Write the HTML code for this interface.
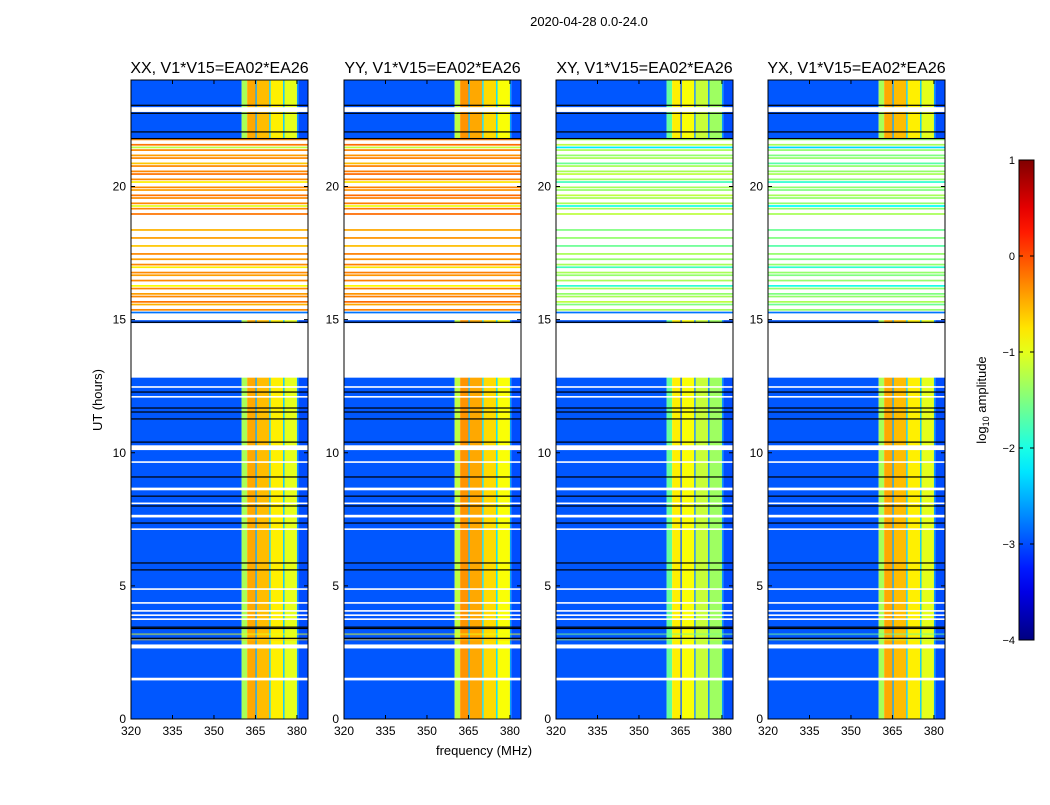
<!DOCTYPE html>
<html><head><meta charset="utf-8">
<style>
body{margin:0;background:#fff;}
svg text{font-family:"Liberation Sans","DejaVu Sans",sans-serif;}
</style></head>
<body>
<svg id="fig" width="1050" height="800" viewBox="0 0 1050 800" xmlns="http://www.w3.org/2000/svg">
<rect width="1050" height="800" fill="#fff"/>
<text x="589" y="26" font-size="13" text-anchor="middle">2020-04-28 0.0-24.0</text>
<text x="102" y="400" font-size="13" text-anchor="middle" transform="rotate(-90 102 400)">UT (hours)</text>
<text x="484" y="755" font-size="13" text-anchor="middle">frequency (MHz)</text>
<g id="panels"></g>
<g id="cbar"></g>
</svg>
<script>
// ---- data ----
const panelTitles = ["XX, V1*V15=EA02*EA26","YY, V1*V15=EA02*EA26","XY, V1*V15=EA02*EA26","YX, V1*V15=EA02*EA26"];
const xTicks = [320,335,350,365,380];
const yTicks = [0,5,10,15,20];
const cbarTicks = [1,0,-1,-2,-3,-4];
// frequency segments: start, end, quiet level (log10 amp)
const freqStart = [320,360,362,365,365.5,370,370.5,375,375.5,380,380.5];
const freqEnd   = [360,362,365,365.5,370,370.5,375,375.5,380,380.5,384];
const freqLevel = [-2.95,-1.3,-0.45,-2.6,-0.55,-2.4,-0.8,-2.4,-1.0,-2.6,-3.0];
const panelBandOffset = [0,0.1,-0.35,0.0];
const panelStripeOffset = [0,0.05,-1.0,-1.1];
// quiet time segments (hours)
const quietStart = [0,14.87,21.8];
const quietEnd   = [12.82,14.98,24];
// stripe rows from 21.8 down to 15.3 every 0.1 h (null = no data)
const stripeLevels = [-0.3,null,-0.2,-1.2,-0.3,null,-0.4,-0.3,null,-0.6,-0.3,null,-0.3,-0.2,null,-0.3,-0.8,null,-0.3,-0.4,null,-0.2,-0.3,null,-0.3,-1.0,-0.3,null,-0.2,null,null,null,null,null,-0.5,null,null,-0.4,null,null,-0.6,null,null,-0.3,null,-0.4,null,-0.3,-0.8,null,-0.3,-0.4,null,-0.3,null,-0.9,-0.3,null,-0.4,-0.3,null,-0.2,-0.5,null,-0.3,-2.8];
// white (flagged) lines: start, end hours
const whiteStart = [1.45,2.65,3.72,3.87,4.03,4.33,4.85,7.1,7.57,8.07,8.59,9.62,10.1,12.07,12.44,22.8];
const whiteEnd   = [1.55,2.8,3.78,3.93,4.09,4.39,4.91,7.16,7.67,8.13,8.69,9.68,10.28,12.13,12.5,22.98];
// black lines (hours)
const blackLines = [3.03,3.4,3.45,5.6,5.86,7.36,8.0,8.37,9.09,10.4,11.27,11.53,11.68,12.28,14.9,21.8,22.05,22.75,23.05];
// mixed stripe rows at ~3 h
const mixStart = [2.95,3.15];
const mixEnd = [3.0,3.22];
const mixLevel = [-0.6,-1.0];

// ---- layout ----
const panelX = [131,344,556,768], PW = 177, PT = 80, PB = 719;
const NS = "http://www.w3.org/2000/svg";
function xs(f,i){return panelX[i] + (f-320)/(384-320)*PW;}
function ys(h){return PB - h/24*(PB-PT);}
function clamp(v){return Math.max(0,Math.min(1,v));}
function jet(v){
  const t = clamp((v+4)/5);
  const r = clamp(1.5-Math.abs(4*t-3)), g = clamp(1.5-Math.abs(4*t-2)), b = clamp(1.5-Math.abs(4*t-1));
  return `rgb(${Math.round(r*255)},${Math.round(g*255)},${Math.round(b*255)})`;
}
function mk(tag, attrs, parent){
  const e = document.createElementNS(NS, tag);
  for (const k in attrs) e.setAttribute(k, attrs[k]);
  parent.appendChild(e); return e;
}
const panels = document.getElementById('panels');
for (let i=0;i<4;i++){
  const g = mk('g',{},panels);
  
  
  for (let q=0;q<quietStart.length;q++){
    for (let s=0;s<freqStart.length;s++){
      const lv = freqLevel[s] + (freqStart[s]>=360 && freqStart[s]<380 ? panelBandOffset[i] : 0);
      const r = mk('rect',{x:xs(freqStart[s],i), y:ys(quietEnd[q]), width:xs(freqEnd[s],i)-xs(freqStart[s],i), height:ys(quietStart[q])-ys(quietEnd[q]), fill:jet(lv)},g);
      
      
    }
  }
  for (let k=0;k<stripeLevels.length;k++){
    if (stripeLevels[k]===null) continue;
    const h = 21.8 - k*0.1;
    const r = mk('rect',{x:panelX[i], y:ys(h), width:PW, height:ys(h-0.065)-ys(h), fill:jet(stripeLevels[k]+ (k<stripeLevels.length-1?panelStripeOffset[i]:0))},g);
    
    
  }
  for (let m=0;m<mixStart.length;m++){
    const r = mk('rect',{x:panelX[i], y:ys(mixEnd[m]), width:PW, height:ys(mixStart[m])-ys(mixEnd[m]), fill:jet(mixLevel[m]+panelStripeOffset[i]*0.5), opacity:0.5},g);
    
    
  }
  for (let w=0;w<whiteStart.length;w++){
    const r = mk('rect',{x:panelX[i], y:ys(whiteEnd[w]), width:PW, height:ys(whiteStart[w])-ys(whiteEnd[w]), fill:'#fff'},g);
    
    
  }
  for (const b of blackLines){
    const r = mk('rect',{x:panelX[i], y:ys(b)-0.6, width:PW, height:1.2, fill:'#000'},g);
    
    
  }
  const fr = mk('rect',{x:panelX[i], y:PT, width:PW, height:PB-PT, fill:'none', stroke:'#000', 'stroke-width':1},g);
  
  
  const t = mk('text',{x:panelX[i]+PW/2, y:73, 'font-size':16, 'text-anchor':'middle'},g);
  t.textContent = panelTitles[i];
  
  
  for (const xt of xTicks){
    const x = xs(xt,i);
    mk('line',{x1:x,x2:x,y1:PB,y2:PB-4,stroke:'#000'},g);
    mk('line',{x1:x,x2:x,y1:PT,y2:PT+4,stroke:'#000'},g);
    const l = mk('text',{x:x, y:PB+16, 'font-size':12, 'text-anchor':'middle'},g);
    l.textContent = xt;
    
    
  }
  for (const yt of yTicks){
    const y = ys(yt);
    mk('line',{x1:panelX[i],x2:panelX[i]+4,y1:y,y2:y,stroke:'#000'},g);
    mk('line',{x1:panelX[i]+PW,x2:panelX[i]+PW-4,y1:y,y2:y,stroke:'#000'},g);
    const l = mk('text',{x:panelX[i]-5, y:y+4, 'font-size':12, 'text-anchor':'end'},g);
    l.textContent = yt;
    
    
  }
}
const cb = document.getElementById('cbar');
const CX=1019, CW=15, CT=160, CB=640;
const defs = mk('defs',{},cb);
const grad = mk('linearGradient',{id:'jetg',x1:0,y1:1,x2:0,y2:0},defs);
for (let k=0;k<=20;k++){ mk('stop',{offset:k/20, 'stop-color':jet(-4+5*k/20)},grad); }
const cr = mk('rect',{x:CX,y:CT,width:CW,height:CB-CT,fill:'url(#jetg)',stroke:'#000'},cb);


for (const v of cbarTicks){
  const y = CB - (v+4)/5*(CB-CT);
  mk('line',{x1:CX,x2:CX+4,y1:y,y2:y,stroke:'#000'},cb);
  mk('line',{x1:CX+CW,x2:CX+CW-4,y1:y,y2:y,stroke:'#000'},cb);
  const l = mk('text',{x:CX-4, y:y+4, 'font-size':11, 'text-anchor':'end'},cb);
  l.textContent = v<0 ? '\u2212'+Math.abs(v) : v;
  
  
}
const ct = mk('text',{x:986, y:400, 'font-size':13, 'text-anchor':'middle', transform:'rotate(-90 986 400)'},cb);
ct.innerHTML = 'log<tspan font-size="9" dy="3">10</tspan><tspan dy="-3"> amplitude</tspan>';


</script>
</body></html>
